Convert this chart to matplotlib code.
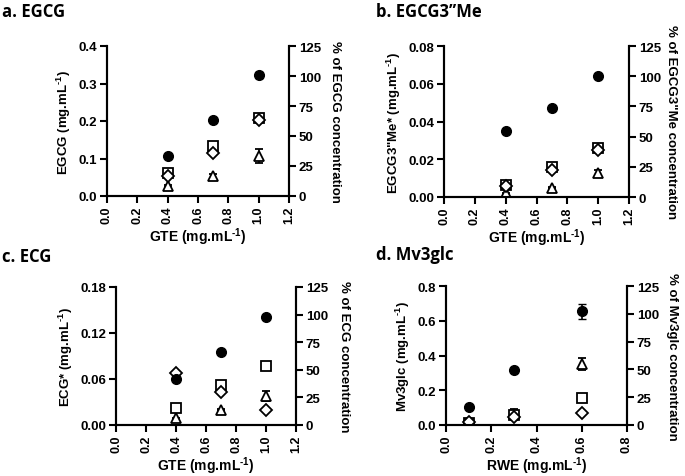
import matplotlib
matplotlib.use("Agg")
import matplotlib.pyplot as plt
import numpy as np

plt.rcParams['font.family'] = ['Liberation Sans', 'DejaVu Sans']
plt.rcParams['font.weight'] = 'bold'
plt.rcParams['mathtext.fontset'] = 'custom'
plt.rcParams['mathtext.bf'] = 'Liberation Sans:bold'
plt.rcParams['mathtext.rm'] = 'Liberation Sans:bold'
plt.rcParams['mathtext.default'] = 'bf'

# ---- data ----
# a. EGCG
a_x = [0.4, 0.7, 1.0]
a_conc = [0.107, 0.202, 0.322]       # filled circles, mg/mL (left axis)
a_conc_err = [0.003, 0.003, 0.008]
a_sq = [19.5, 42, 65]                # % (right axis)
a_dia = [17, 36, 63]
a_tri = [8.4, 16.8, 33.5]
a_tri_err = [1, 1.5, 6]

# b. EGCG3''Me
b_x = [0.4, 0.7, 1.0]
b_conc = [0.0352, 0.047, 0.0643]
b_conc_err = [0.0005, 0.0005, 0.0005]
b_sq = [9.8, 25, 40.6]
b_dia = [9.4, 22, 38.5]
b_tri = [3.1, 7.8, 19.5]
b_tri_err = [0.5, 0.5, 3]

# c. ECG
c_x = [0.4, 0.7, 1.0]
c_conc = [0.060, 0.0953, 0.1407]
c_conc_err = [0.001, 0.001, 0.003]
c_sq = [15.8, 35.8, 53.5]
c_dia = [47, 30.3, 14]
c_tri = [6, 14, 26]
c_tri_err = [0.5, 0.5, 4.5]

# d. Mv3glc
d_x = [0.1, 0.3, 0.6]
d_conc = [0.106, 0.318, 0.655]
d_conc_err = [0.003, 0.005, 0.044]
d_sq = [2.0, 9.0, 24.4]
d_dia = [2.3, 7.5, 10.5]
d_tri = [1.5, 9.7, 55]
d_tri_err = [0.5, 5, 5.5]

W, H = 685, 477
fig = plt.figure(figsize=(W / 100, H / 100), dpi=100)


def px(l, t, r, b):
    return [l / W, 1 - b / H, (r - l) / W, (b - t) / H]


def panel(rect, x, conc, conc_err, sq, dia, tri, tri_err, ymax, yticks, yfmt,
          xmax, xticks, ylabel, xlabel, rlabel, rlabel_x):
    ax = fig.add_axes(rect)
    ax2 = ax.twinx()
    ms = 6.5
    ax2.errorbar(x, tri, yerr=tri_err, fmt='^', mfc='white', mec='black', ms=ms,
                 ecolor='black', elinewidth=1.2, capsize=3, mew=1.3, zorder=3)
    ax2.plot(x, sq, 's', mfc='white', mec='black', ms=ms, mew=1.3, zorder=4)
    ax2.plot(x, dia, 'D', mfc='white', mec='black', ms=ms * 0.9, mew=1.3, zorder=5)
    ax.errorbar(x, conc, yerr=conc_err, fmt='o', color='black', ms=ms + 0.5,
                ecolor='black', elinewidth=1.2, capsize=3, zorder=3)
    ax.set_zorder(ax2.get_zorder() + 1)
    ax.patch.set_visible(False)

    ax.set_xlim(0, xmax)
    ax.set_xticks(xticks)
    ax.set_xticklabels(['%.1f' % t for t in xticks], rotation=90)
    ax.set_ylim(0, ymax)
    ax.set_yticks(yticks)
    ax.set_yticklabels([yfmt % t for t in yticks])
    ax2.set_ylim(0, 125)
    ax2.set_yticks([0, 25, 50, 75, 100, 125])

    for a in (ax, ax2):
        a.spines['top'].set_visible(False)
        for s in ('left', 'right', 'bottom'):
            a.spines[s].set_linewidth(1.5)
        a.tick_params(direction='out', length=5, width=1.5, labelsize=9.5, pad=2)
    ax.tick_params(axis='x', labelsize=9)
    ax.set_ylabel(ylabel, fontsize=9.5, fontweight='bold', labelpad=4)
    ax.set_xlabel(xlabel, fontsize=10, fontweight='bold', labelpad=1.5)
    fig.text(rlabel_x / W, rect[1] + rect[3] / 2,
             rlabel, rotation=270, ha='center', va='center',
             fontsize=9.5, fontweight='bold')
    return ax


unit = ' (mg.mL$^{\\text{-1}}$)'
panel(px(107, 47, 289, 197), a_x, a_conc, a_conc_err, a_sq, a_dia, a_tri, a_tri_err,
      0.4, [0, 0.1, 0.2, 0.3, 0.4], '%.1f', 1.2, [0, 0.2, 0.4, 0.6, 0.8, 1.0, 1.2],
      'EGCG' + unit, 'GTE' + unit, '% of EGCG concentration', 335)

panel(px(444, 47, 629, 198), b_x, b_conc, b_conc_err, b_sq, b_dia, b_tri, b_tri_err,
      0.08, [0, 0.02, 0.04, 0.06, 0.08], '%.2f', 1.2, [0, 0.2, 0.4, 0.6, 0.8, 1.0, 1.2],
      'EGCG3"Me*' + unit, 'GTE' + unit, '% of EGCG3"Me concentration', 671)

panel(px(116, 288, 296, 426), c_x, c_conc, c_conc_err, c_sq, c_dia, c_tri, c_tri_err,
      0.18, [0, 0.06, 0.12, 0.18], '%.2f', 1.2, [0, 0.2, 0.4, 0.6, 0.8, 1.0, 1.2],
      'ECG*' + unit, 'GTE' + unit, '% of ECG concentration', 344)

panel(px(446, 287, 627, 426), d_x, d_conc, d_conc_err, d_sq, d_dia, d_tri, d_tri_err,
      0.8, [0, 0.2, 0.4, 0.6, 0.8], '%.1f', 0.8, [0, 0.2, 0.4, 0.6, 0.8],
      'Mv3glc' + unit, 'RWE' + unit, '% of Mv3glc concentration', 672)

tfont = dict(fontsize=12, fontweight='bold', family=['Open Sans', 'DejaVu Sans'],
             va='center', ha='left')
fig.text(2 / W, 1 - 12 / H, 'a. EGCG', **tfont)
fig.text(376 / W, 1 - 12 / H, 'b. EGCG3\u2019\u2019Me', **tfont)
fig.text(2 / W, 1 - 257 / H, 'c. ECG', **tfont)
fig.text(376 / W, 1 - 255 / H, 'd. Mv3glc', **tfont)

fig.savefig('out.png', dpi=100)
